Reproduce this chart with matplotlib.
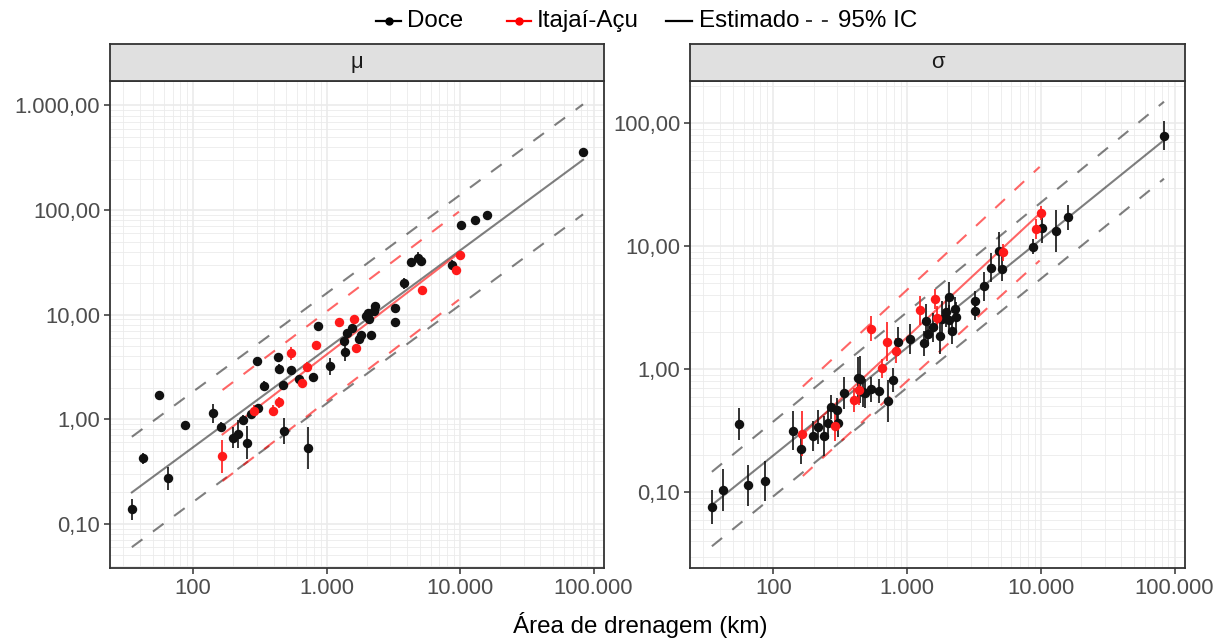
import matplotlib
matplotlib.use("Agg")
import matplotlib.pyplot as plt
from matplotlib.lines import Line2D
from matplotlib.ticker import FixedLocator, FuncFormatter, NullFormatter

plt.rcParams['font.family'] = ['Liberation Sans', 'DejaVu Sans']

##############################################################################
# data: drainage area (km2), parameter estimates and error half-widths (log10)

doce_area = [34.7, 42.0, 55.8, 64.9, 87.1, 140, 161, 197, 215, 238, 255, 271,
             301, 305, 337, 430, 442, 468, 482, 537, 617, 724, 785, 861,
             1059, 1343, 1380, 1429, 1549, 1758, 1820, 1963, 2056, 2065,
             2153, 2280, 2307, 3236, 3236, 3784, 4266, 4853, 5105, 8730,
             10190, 12970, 15960, 83370]
doce_mu = [0.138, 0.424, 1.70, 0.272, 0.877, 1.14, 0.851, 0.668, 0.724, 0.986,
           0.598, 1.12, 3.59, 1.29, 2.07, 3.94, 3.05, 2.11, 0.773, 2.94, 2.42,
           0.527, 2.54, 7.82, 3.21, 5.61, 4.35, 6.61, 7.43, 5.83, 6.41, 9.75,
           10.3, 9.06, 6.32, 10.8, 12.1, 11.6, 8.47, 19.9, 32.0, 35.0, 32.7,
           29.8, 71.8, 80.7, 89.5, 361]
doce_mu_err = [0.10, 0.05, 0.04, 0.11, 0.03, 0.09, 0.04, 0.10, 0.13, 0.05,
               0.16, 0.03, 0.03, 0.04, 0.05, 0.04, 0.04, 0.04, 0.12, 0.03,
               0.04, 0.20, 0.04, 0.03, 0.08, 0.04, 0.08, 0.04, 0.04, 0.04,
               0.04, 0.04, 0.04, 0.04, 0.04, 0.04, 0.04, 0.04, 0.04, 0.05,
               0.04, 0.05, 0.04, 0.05, 0.03, 0.04, 0.03, 0.03]
doce_sigma = [0.0764, 0.105, 0.360, 0.114, 0.124, 0.318, 0.224, 0.288, 0.339,
              0.288, 0.365, 0.495, 0.469, 0.370, 0.638, 0.851, 0.832, 0.653,
              0.638, 0.687, 0.668, 0.555, 0.822, 1.68, 1.77, 1.63, 2.46, 1.94,
              2.20, 1.88, 2.57, 2.91, 3.86, 2.54, 2.04, 3.10, 2.69, 3.62, 3.01,
              4.74, 6.73, 9.20, 6.61, 9.93, 14.0, 13.4, 17.2, 79.6]
doce_sigma_err = [0.14, 0.17, 0.13, 0.17, 0.16, 0.16, 0.12, 0.12, 0.14, 0.16,
                  0.13, 0.10, 0.10, 0.12, 0.13, 0.17, 0.19, 0.12, 0.12, 0.10,
                  0.10, 0.17, 0.10, 0.12, 0.12, 0.10, 0.14, 0.10, 0.12, 0.15,
                  0.15, 0.12, 0.12, 0.12, 0.10, 0.10, 0.12, 0.08, 0.08, 0.12,
                  0.12, 0.15, 0.10, 0.06, 0.12, 0.17, 0.10, 0.12]

itajai_area = [165, 287, 398, 437, 541, 653, 713, 832, 1245, 1614, 1660,
               5224, 9247, 9954]
itajai_mu = [0.443, 1.20, 1.21, 1.45, 4.26, 2.21, 3.19, 5.11, 8.53, 9.06, 4.81,
             17.1, 26.7, 37.1]
itajai_mu_err = [0.16, 0.06, 0.05, 0.05, 0.06, 0.05, 0.04, 0.04, 0.04, 0.04,
                 0.04, 0.04, 0.04, 0.04]
itajai_sigma = [0.301, 0.345, 0.566, 0.678, 2.14, 1.02, 1.68, 1.42, 3.02, 3.74,
                2.61, 8.97, 13.9, 18.7]
itajai_sigma_err = [0.18, 0.12, 0.10, 0.12, 0.10, 0.08, 0.16, 0.10, 0.12, 0.08,
                    0.10, 0.07, 0.08, 0.06]

# fitted regional curves and 95% bands (end points, straight in log-log)
doce_fit_area = [34.7, 83400]
doce_mu_fit = [0.200, 302]
doce_mu_upper = [0.68, 1024]
doce_mu_lower = [0.060, 91]
doce_sigma_fit = [0.079, 73]
doce_sigma_upper = [0.147, 150]
doce_sigma_lower = [0.0365, 35.5]

itajai_fit_area = [166, 9800]
itajai_mu_fit = [0.718, 38.8]
itajai_mu_upper = [1.905, 96.4]
itajai_mu_lower = [0.257, 13.9]
itajai_sigma_fit = [0.297, 18.45]
itajai_sigma_upper = [0.726, 44.3]
itajai_sigma_lower = [0.136, 7.67]

x_ticks = [100, 1000, 10000, 100000]
mu_ticks = [0.1, 1, 10, 100, 1000]
sigma_ticks = [0.1, 1, 10, 100]

##############################################################################
# style

W, H = 1227, 639
tick_size = 15.8
title_size = 17.4
grid_color = '#EBEBEB'
frame_color = '#333333'
dash = (6.3, 6.3)


def br_num(v, dec):
    s = f"{v:,.{dec}f}"
    return s.replace(',', 'X').replace('.', ',').replace('X', '.')


def minor_positions(lo, hi):
    out = []
    for e in range(lo, hi):
        for k in range(2, 10):
            out.append(k * 10.0 ** e)
    return out


def panel(rect, label, ylim, yticks):
    ax = fig.add_axes(rect)
    ax.set_xscale('log')
    ax.set_yscale('log')
    ax.set_xlim(23.8, 119700)
    ax.set_ylim(*ylim)
    ax.xaxis.set_major_locator(FixedLocator(x_ticks))
    ax.xaxis.set_minor_locator(FixedLocator(minor_positions(1, 5)))
    ax.yaxis.set_major_locator(FixedLocator(yticks))
    ax.yaxis.set_minor_locator(FixedLocator(minor_positions(-2, 3)))
    ax.xaxis.set_major_formatter(FuncFormatter(lambda v, p: br_num(v, 0)))
    ax.yaxis.set_major_formatter(FuncFormatter(lambda v, p: br_num(v, 2)))
    ax.xaxis.set_minor_formatter(NullFormatter())
    ax.yaxis.set_minor_formatter(NullFormatter())
    ax.grid(which='major', color=grid_color, lw=1.2)
    ax.grid(which='minor', color=grid_color, lw=0.6)
    ax.set_axisbelow(True)
    ax.tick_params(which='major', length=4, width=1.1, color=frame_color,
                   labelsize=tick_size, labelcolor='#4D4D4D', pad=3)
    ax.tick_params(which='minor', length=0)
    for s in ax.spines.values():
        s.set_color(frame_color)
        s.set_linewidth(1.3)

    # facet strip on top of the panel
    sh = 37 / H
    st = fig.add_axes([rect[0], rect[1] + rect[3], rect[2], sh])
    st.set_facecolor('#E0E0E0')
    st.set_xticks([])
    st.set_yticks([])
    for s in st.spines.values():
        s.set_color(frame_color)
        s.set_linewidth(1.3)
    st.text(0.5, 0.5, label, ha='center', va='center', fontsize=tick_size,
            color='#1A1A1A', transform=st.transAxes)
    return ax


def draw_bands(ax, area, fit, upper, lower, color, alpha):
    ax.plot(area, fit, color=color, alpha=alpha, lw=1.5, zorder=2)
    for yy in (upper, lower):
        ax.plot(area, yy, color=color, alpha=alpha, lw=1.5, dashes=dash,
                zorder=2)


def draw_points(ax, area, vals, err, color):
    lo = [v / 10 ** e for v, e in zip(vals, err)]
    hi = [v * 10 ** e for v, e in zip(vals, err)]
    ax.vlines(area, lo, hi, color=color, lw=1.2, zorder=3)
    ax.plot(area, vals, 'o', color=color, ms=6.8, mew=0, zorder=4)


fig = plt.figure(figsize=(W / 100, H / 100), dpi=100)

ax1 = panel([110 / W, (H - 568) / H, 494 / W, 487 / H], 'μ',
            (0.0379, 1710), mu_ticks)
ax2 = panel([690 / W, (H - 568) / H, 495 / W, 487 / H], 'σ',
            (0.0243, 221), sigma_ticks)

draw_bands(ax1, doce_fit_area, doce_mu_fit, doce_mu_upper, doce_mu_lower,
           'black', 0.5)
draw_bands(ax1, itajai_fit_area, itajai_mu_fit, itajai_mu_upper,
           itajai_mu_lower, 'red', 0.6)
draw_points(ax1, doce_area, doce_mu, doce_mu_err, '#111111')
draw_points(ax1, itajai_area, itajai_mu, itajai_mu_err, '#FF1A1A')

draw_bands(ax2, doce_fit_area, doce_sigma_fit, doce_sigma_upper,
           doce_sigma_lower, 'black', 0.5)
draw_bands(ax2, itajai_fit_area, itajai_sigma_fit, itajai_sigma_upper,
           itajai_sigma_lower, 'red', 0.6)
draw_points(ax2, doce_area, doce_sigma, doce_sigma_err, '#111111')
draw_points(ax2, itajai_area, itajai_sigma, itajai_sigma_err, '#FF1A1A')

fig.text(640 / W, (H - 625) / H, 'Área de drenagem (km)', ha='center',
         va='center', fontsize=title_size)

# legend row, built by hand so each key sits where it should
ly = (H - 21) / H
keys = [
    (376, 401, 407, 'Doce', dict(color='black', marker='o', ms=5)),
    (507, 531, 537, 'Itajaí-Açu', dict(color='red', marker='o', ms=5)),
    (666, 692, 699, 'Estimado', dict(color='black')),
    (806, 829, 838, '95% IC', dict(color='black', dashes=(3.9, 6.5), lw=1.1)),
]
for x0, x1, xt, name, kw in keys:
    kw.setdefault('lw', 1.6)
    mk = kw.pop('marker', None)
    ms = kw.pop('ms', None)
    fig.add_artist(Line2D([x0 / W, x1 / W], [ly, ly], transform=fig.transFigure,
                          **kw))
    if mk:
        fig.add_artist(Line2D([(x0 + x1) / 2 / W], [ly], marker=mk, ms=ms,
                              color=kw['color'], transform=fig.transFigure))
    fig.text(xt / W, ly, name, ha='left', va='center', fontsize=title_size)

plt.savefig('out.png', dpi=100)
